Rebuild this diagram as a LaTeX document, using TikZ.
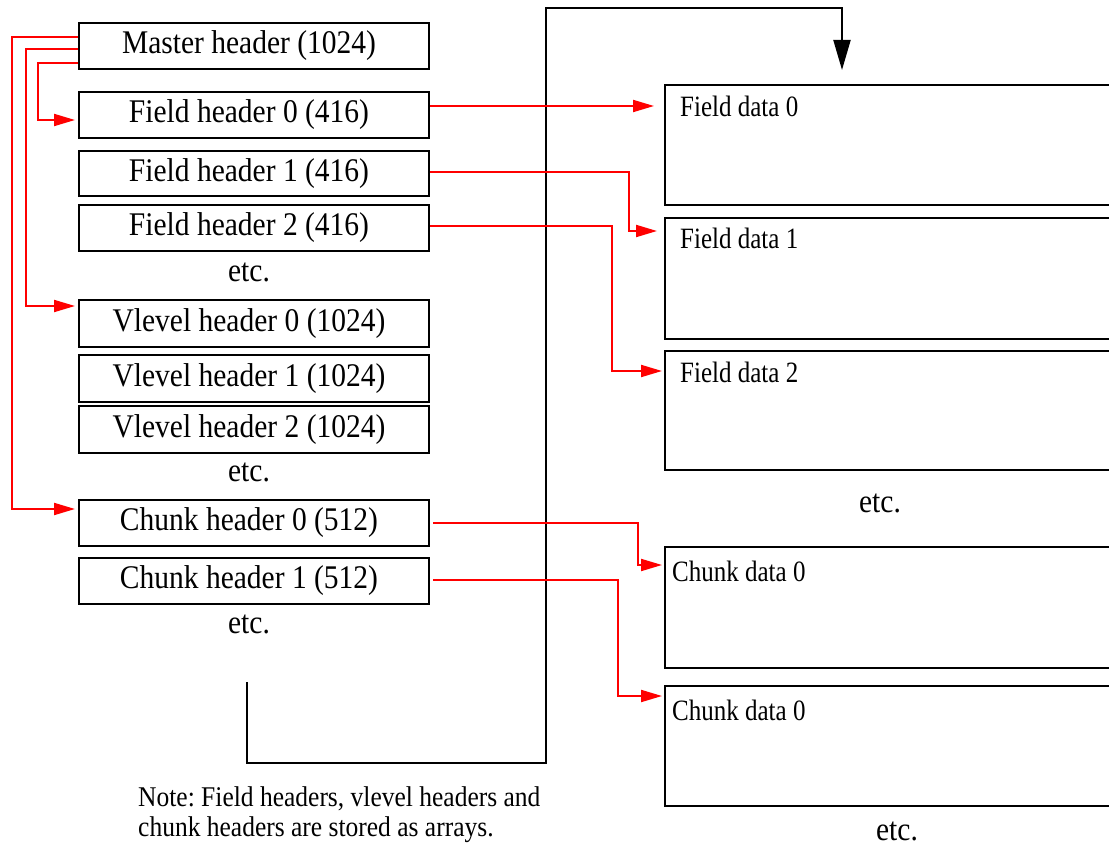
\documentclass[tikz,border=0pt]{standalone}
\usepackage{fontspec}
\usepackage{graphicx}
\setmainfont{Liberation Serif}
\usetikzlibrary{arrows.meta}
\newcommand\tallA[1]{\scalebox{1}[1.12]{#1}}
\newcommand\tallB[1]{\scalebox{1}[1.18]{#1}}
\frenchspacing
\begin{document}
\begin{tikzpicture}[x=1pt,y=-1pt,
  hdr/.style={draw, line width=2pt, minimum width=350pt, inner sep=0pt,
    font=\fontsize{29.5}{34}\selectfont, execute at end node={\hspace*{10pt}}},
  dat/.style={draw, line width=2pt, minimum width=470pt, inner sep=0pt},
  dlab/.style={font=\fontsize{25}{30}\selectfont, inner sep=0pt, anchor=base west},
  etcl/.style={font=\fontsize{29.5}{34}\selectfont, inner sep=0pt},
  ra/.style={draw=red, line width=2pt, -{Triangle[length=21pt,width=12pt]}},
  ba/.style={draw=black, line width=2pt, -{Triangle[length=30pt,width=17pt]}}
]
\useasboundingbox (0,0) rectangle (1109,845);
\clip (0,0) rectangle (1109,845);

% header boxes
\node[hdr, minimum height=46pt] (mh)  at (254,46)    {\tallA{Master header (1024)}};
\node[hdr, minimum height=46pt] (fh0) at (254,115)   {\tallA{Field header 0 (416)}};
\node[hdr, minimum height=45pt] (fh1) at (254,173.5) {\tallA{Field header 1 (416)}};
\node[hdr, minimum height=46pt] (fh2) at (254,228)   {\tallA{Field header 2 (416)}};
\node[etcl] (e1) at (249,272) {\tallA{etc.}};
\node[hdr, minimum height=47pt] (vh0) at (254,323.5) {\tallA{Vlevel header 0 (1024)}};
\node[hdr, minimum height=47pt] (vh1) at (254,378.5) {\tallA{Vlevel header 1 (1024)}};
\node[hdr, minimum height=47pt] (vh2) at (254,429.5) {\tallA{Vlevel header 2 (1024)}};
\node[etcl] (e2) at (249,472) {\tallA{etc.}};
\node[hdr, minimum height=46pt] (ch0) at (254,523)   {\tallA{Chunk header 0 (512)}};
\node[hdr, minimum height=46pt] (ch1) at (254,581)   {\tallA{Chunk header 1 (512)}};
\node[etcl] (e3) at (249,624) {\tallA{etc.}};

% data boxes
\node[dat, minimum height=120pt] (fd0) at (900,145)   {};
\node[dat, minimum height=121pt] (fd1) at (900,278.5) {};
\node[dat, minimum height=119pt] (fd2) at (900,410.5) {};
\node[etcl] (e4) at (880,503) {\tallA{etc.}};
\node[dat, minimum height=121pt] (cd0) at (900,607.5) {};
\node[dat, minimum height=120pt] (cd1) at (900,746)   {};
\node[etcl] (e5) at (897,831) {\tallA{etc.}};

\node[dlab] (lfd0) at ([xshift=16pt,yshift=-33pt]fd0.north west) {\tallB{Field data 0}};
\node[dlab] (lfd1) at ([xshift=16pt,yshift=-32pt]fd1.north west) {\tallB{Field data 1}};
\node[dlab] (lfd2) at ([xshift=16pt,yshift=-32pt]fd2.north west) {\tallB{Field data 2}};
\node[dlab] (lcd0) at ([xshift=8pt,yshift=-35pt]cd0.north west) {\tallB{Chunk data 0}};
\node[dlab] (lcd1) at ([xshift=8pt,yshift=-35pt]cd1.north west) {\tallB{Chunk data 0}};

% note
\node[font=\fontsize{25.5}{30}\selectfont, align=left, anchor=west, inner sep=0pt] (note) at (138,815)
  {\tallA{Note: Field headers, vlevel headers and}\\\tallA{chunk headers are stored as arrays.}};

% black loop connector
\coordinate (bs) at (247,682);
\coordinate (bb) at (546,763);
\coordinate (bt) at (546,8);
\draw[ba, shorten >=14pt] (bs) |- (bb) -- (bt) -| ([xshift=178pt]fd0.north west);

% red connectors from master header
\draw[ra, shorten >=3pt] ([yshift=-17pt]mh.west) -| ([xshift=-40pt,yshift=-5pt]fh0.west) -- ([yshift=-5pt]fh0.west);
\draw[ra, shorten >=3pt] ([yshift=-3pt]mh.west) -| ([xshift=-52pt,yshift=17.5pt]vh0.west) -- ([yshift=17.5pt]vh0.west);
\draw[ra, shorten >=3pt] ([yshift=9pt]mh.west) -| ([xshift=-66pt,yshift=14pt]ch0.west) -- ([yshift=14pt]ch0.west);

% red connectors to data
\path ([yshift=9pt]fh0.east) coordinate (s0);
\draw[ra, shorten >=10pt] (s0) -- (s0 -| fd0.west);
\draw[ra, shorten >=7pt] ([yshift=1.5pt]fh1.east) -| ([xshift=-35pt,yshift=-14pt]fd1.north west) -- ([yshift=-14pt]fd1.north west);
\draw[ra, shorten >=2pt] ([yshift=2pt]fh2.east) -| ([xshift=-52pt,yshift=-21pt]fd2.north west) -- ([yshift=-21pt]fd2.north west);
\draw[ra, shorten >=2pt] ([xshift=3pt]ch0.east) -| ([xshift=-26pt,yshift=-19pt]cd0.north west) -- ([yshift=-19pt]cd0.north west);
\draw[ra, shorten >=2pt] ([xshift=3pt,yshift=1pt]ch1.east) -| ([xshift=-46pt,yshift=-11pt]cd1.north west) -- ([yshift=-11pt]cd1.north west);
\end{tikzpicture}
\end{document}
